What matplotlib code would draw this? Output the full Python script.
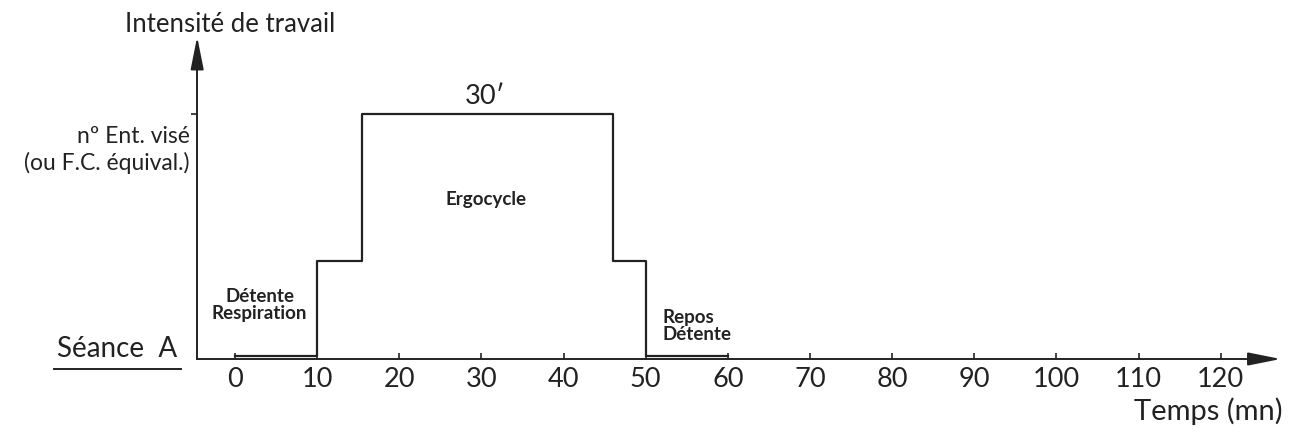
import numpy as np
import matplotlib
matplotlib.use("Agg")
from matplotlib import pyplot as plt

plt.rcParams['font.family'] = ['Lato', 'DejaVu Sans']

# 데이터 : séance A (temps en mn, intensité relative)
phase_t = [0, 10, 15.5, 46, 50, 60]
phase_level = [0.012, 0.4, 1.0, 0.4, 0.012, 0.012]
x_ticks = [0, 10, 20, 30, 40, 50, 60, 70, 80, 90, 100, 110, 120]
target_level = 1.0
target_label = "nº Ent. visé\n(ou F.C. équival.)"
duration_label = "30\u2032"

fig = plt.figure(figsize=(12.98, 4.33), dpi=100)
ax = fig.add_axes([0, 0, 1, 1])
ax.set_xlim(-28.6, 129.4)
ax.set_ylim(-0.302, 1.465)

# 축 설정
y_axis_x = -4.6
ax.spines['bottom'].set_position(('data', 0))
ax.spines['left'].set_position(('data', y_axis_x))
ax.spines['bottom'].set_bounds(y_axis_x, 125)
ax.spines['left'].set_bounds(0, 1.24)
for s in ['top', 'right']:
    ax.spines[s].set_visible(False)
for s in ['bottom', 'left']:
    ax.spines[s].set_linewidth(1.4)
    ax.spines[s].set_color('#222')

ax.set_xticks(x_ticks)
ax.set_xticklabels([str(t) for t in x_ticks], fontsize=19.5, color='#222')
ax.tick_params(axis='x', direction='in', length=4, width=1.2, pad=6, color='#222')
ax.set_yticks([target_level])
ax.set_yticklabels([''])
ax.tick_params(axis='y', direction='out', length=4, width=1.2, color='#222')

# 화살표
arrow_style = '-|>,head_length=1.0,head_width=0.2'
ax.annotate('', xy=(127.3, 0), xytext=(124, 0),
            arrowprops=dict(arrowstyle=arrow_style, color='#222', lw=1.4,
                            mutation_scale=20, shrinkA=0, shrinkB=0))
ax.annotate('', xy=(y_axis_x, 1.315), xytext=(y_axis_x, 1.22),
            arrowprops=dict(arrowstyle=arrow_style, color='#222', lw=1.4,
                            mutation_scale=20, shrinkA=0, shrinkB=0))

# 프로파일
ax.step(phase_t, phase_level, where='post', color='#222', lw=1.6)

# 텍스트
ax.text(-0.6, 1.367, "Intensité de travail", fontsize=18.5, ha='center', va='center', color='#222')
ax.text(-5.5, 0.853, target_label, fontsize=16.5, ha='right', va='center', color='#222',
        linespacing=1.3)
ax.text(30.5, 1.07, duration_label, fontsize=19.5, ha='center', va='center', color='#222')
ax.text(30.5, 0.65, "Ergocycle", fontsize=13.5, ha='center', va='center', color='#222',
        fontweight='bold')
ax.text(3.0, 0.22, "Détente\nRespiration", fontsize=13.5, ha='center', va='center',
        color='#222', fontweight='bold', linespacing=1.05)
ax.text(52.0, 0.135, "Repos\nDétente", fontsize=13.5, ha='left', va='center',
        color='#222', fontweight='bold', linespacing=1.05)
ax.text(-14.4, 0.04, "Séance  A", fontsize=20, ha='center', va='center', color='#222')
ax.plot([-22.0, -6.6], [-0.04, -0.04], color='#222', lw=1.4)
ax.text(127.5, -0.215, "Temps (mn)", fontsize=21, ha='right', va='center', color='#222')

fig.savefig("out.png", dpi=100)
